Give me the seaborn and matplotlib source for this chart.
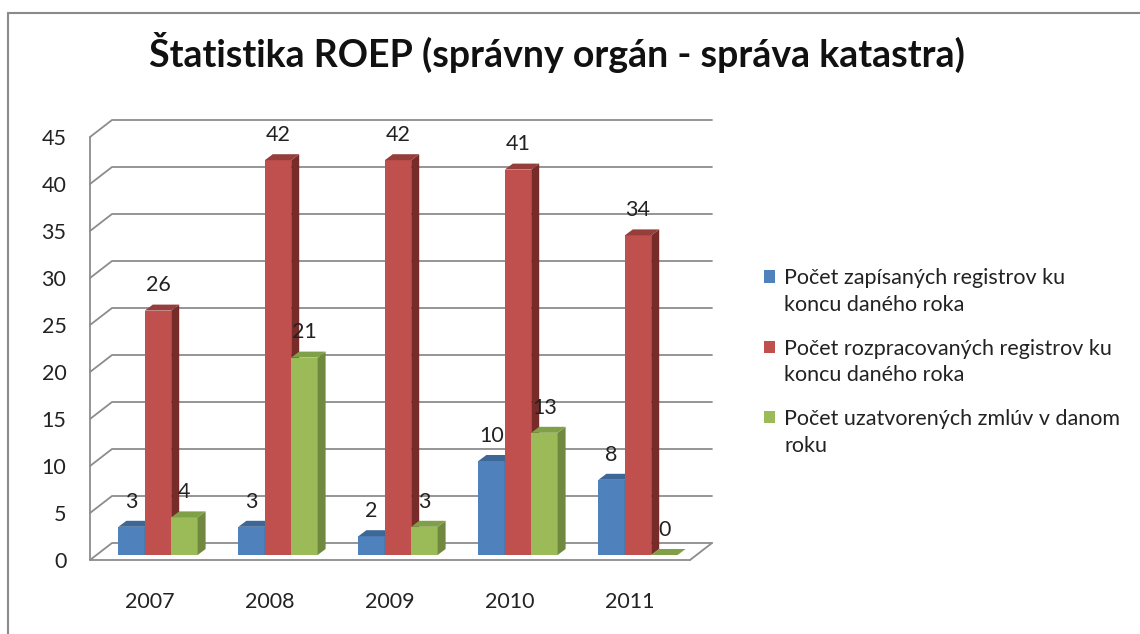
import textwrap

import matplotlib
matplotlib.use("Agg")
import matplotlib.pyplot as plt
import numpy as np
import pandas as pd
import seaborn as sns
from matplotlib.legend_handler import HandlerPatch
from matplotlib.lines import Line2D
from matplotlib.patches import Polygon, Rectangle

# data
years = ["2007", "2008", "2009", "2010", "2011"]
series = [
    "Počet zapísaných registrov ku koncu daného roka",
    "Počet rozpracovaných registrov ku koncu daného roka",
    "Počet uzatvorených zmlúv v danom roku",
]
zapisane = [3, 3, 2, 10, 8]
rozpracovane = [26, 42, 42, 41, 34]
zmluvy = [4, 21, 3, 13, 0]
yticks = list(range(0, 46, 5))

front = ["#4F81BD", "#C0504D", "#9BBB59"]
side = ["#385D8A", "#772C2A", "#71893F"]
top = ["#3D6797", "#963E3C", "#80A047"]
grid_col = "#8C8C8C"
FS = 15.5

df = pd.DataFrame({
    "year": np.tile(years, 3),
    "series": np.repeat(series, len(years)),
    "value": zapisane + rozpracovane + zmluvy,
})

sns.set_style("white")
plt.rcParams["font.family"] = ["Lato", "DejaVu Sans"]

W, H = 1140, 634
fig = plt.figure(figsize=(W / 100, H / 100), dpi=100)
# front plane of the plot box: x 90..690 px, y 560 (0) .. 137 (45) px
ax = fig.add_axes([90 / W, (H - 560) / H, 600 / W, 423 / H])

sns.barplot(data=df, x="year", y="value", hue="series", palette=front,
            saturation=1, width=0.66, ax=ax, legend=True, linewidth=0)
ax.set_xlim(-0.5, 4.5)
ax.set_ylim(0, 45)

# pixel -> data unit helpers
ux = 600 / 5
uy = 423 / 45


def off(px, py):
    return px / ux, py / uy


# back wall + gridlines (3D look)
gx, gy = off(22, 17)
for v in yticks:
    ax.plot([-0.5, -0.5 + gx, 4.5 + gx], [v, v + gy, v + gy],
            color=grid_col, lw=1.3, zorder=1, clip_on=False)
ax.plot([4.5, -0.5, -0.5], [0, 0, 45], color=grid_col, lw=1.3, zorder=1, clip_on=False)
ax.plot([4.5, 4.5 + gx], [0, gy], color=grid_col, lw=1.3, zorder=1, clip_on=False)

# shift bars to mid depth, add side and top faces
bx, by = off(8, 5)
dx, dy = off(8, 6)
for h, cont in enumerate(ax.containers):
    for bar, val in zip(cont.patches, cont.datavalues):
        bar.set_x(bar.get_x() + bx)
        bar.set_y(by)
        bar.set_clip_on(False)
        z = 2 + h * 0.1
        bar.set_zorder(z)
        x0, w, y1 = bar.get_x(), bar.get_width(), by + val
        ax.add_patch(Polygon([(x0 + w, by), (x0 + w + dx, by + dy),
                              (x0 + w + dx, y1 + dy), (x0 + w, y1)],
                             closed=True, fc=side[h], ec="none", zorder=z, clip_on=False))
        ax.add_patch(Polygon([(x0, y1), (x0 + dx, y1 + dy),
                              (x0 + w + dx, y1 + dy), (x0 + w, y1)],
                             closed=True, fc=top[h], ec="none", zorder=z, clip_on=False))
        ax.annotate(f"{val:g}", (x0 + w / 2, y1), xytext=(0, 11),
                    textcoords="offset points", ha="center", va="bottom",
                    fontsize=FS, color="#222222", zorder=5)

ax.set_yticks(yticks)
ax.set_xlabel("")
ax.set_ylabel("")
ax.tick_params(axis="both", length=0, labelsize=FS, colors="#222222")
ax.tick_params(axis="y", pad=17)
ax.tick_params(axis="x", pad=23)
for s in ax.spines.values():
    s.set_visible(False)
ax.patch.set_visible(False)

# legend with wrapped labels, square aligned to first line


def first_line_square(legend, orig_handle, xdescent, ydescent, width, height, fontsize):
    return Rectangle((-xdescent, -ydescent + 0.72 * fontsize), width, height)


handles, labels = ax.get_legend_handles_labels()
ax.get_legend().remove()
leg = fig.legend(handles, [textwrap.fill(l, 33) for l in labels],
                 loc="center left", bbox_to_anchor=(753 / W, (H - 362) / H),
                 frameon=False, fontsize=FS, handlelength=0.5, handleheight=0.5,
                 handletextpad=0.45, labelspacing=1.1, borderpad=0,
                 handler_map={Rectangle: HandlerPatch(patch_func=first_line_square)})
for t in leg.get_texts():
    t.set_linespacing(1.42)
    t.set_color("#222222")

fig.text(557 / W, 1 - 52 / H, "Štatistika ROEP (správny orgán - správa katastra)",
         ha="center", va="center", fontsize=27, fontweight="bold", color="#111111")

# outer chart frame (top and left edges visible)
fig.add_artist(Line2D([8 / W, 1], [1 - 13 / H] * 2, transform=fig.transFigure,
                      color="#8A8A8A", lw=1.5))
fig.add_artist(Line2D([8 / W] * 2, [0, 1 - 13 / H], transform=fig.transFigure,
                      color="#8A8A8A", lw=1.5))

fig.savefig("out.png", dpi=100, facecolor="white")
